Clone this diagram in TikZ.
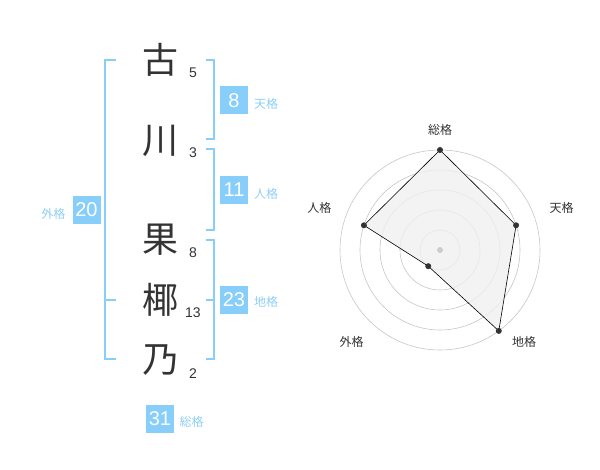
\documentclass[tikz,border=0pt]{standalone}
\usepackage{fontspec}
\setmainfont{Liberation Sans}
\newfontfamily\cjk{Noto Sans CJK JP}
\usetikzlibrary{calc}
\definecolor{kakusky}{HTML}{87CEFA}
\definecolor{kakutext}{HTML}{8DCFF5}
\definecolor{inkgray}{HTML}{333333}
\begin{document}
\begin{tikzpicture}[x=1pt,y=-1pt,
  kanji/.style={font=\cjk\fontsize{36}{36}\selectfont, text=inkgray, inner sep=0pt},
  strokes/.style={font=\fontsize{14}{14}\selectfont, text=inkgray, inner sep=0pt},
  kakubox/.style={fill=kakusky, text=white, minimum width=28pt, minimum height=28pt, inner sep=0pt, font=\fontsize{20}{20}\selectfont},
  kakuname/.style={text=kakutext, font=\cjk\fontsize{12}{12}\selectfont, inner sep=0pt},
  bracket/.style={draw=kakusky, line width=2pt},
  ring/.style={draw=gray!45, line width=0.6pt},
  axisname/.style={text=inkgray, font=\cjk\fontsize{12}{12}\selectfont, inner sep=0pt},
  dot/.style={circle, fill=inkgray, inner sep=0pt, minimum size=6pt}]
\useasboundingbox (0,0) rectangle (600,470);

% name and strokes
\node[kanji] (c1) at (160,60) {古};
\node[kanji] (c2) at (160,141) {川};
\node[kanji] (c3) at (160,240) {果};
\node[kanji] (c4) at (160,300) {椰};
\node[kanji] (c5) at (160,360) {乃};
\node[strokes] (s1) at (193,73) {5};
\node[strokes] (s2) at (193,153) {3};
\node[strokes] (s3) at (193,253) {8};
\node[strokes] (s4) at (193,313) {13};
\node[strokes] (s5) at (193,374) {2};

% brackets
\draw[bracket] (116,60)--(104.7,60)--(104.7,359.3)--(116,359.3);
\draw[bracket] (104.7,300)--(116,300);
\draw[bracket] (205.7,60)--(214.3,60)--(214.3,139.3)--(205.7,139.3);
\draw[bracket] (205.7,149.3)--(214.3,149.3)--(214.3,230)--(205.7,230);
\draw[bracket] (205.7,240)--(214.3,240)--(214.3,359.3)--(205.7,359.3);
\draw[bracket] (205.7,300)--(214.3,300);

% scores
\node[kakubox] (ten) at (234,100.5) {8};
\node[kakuname] at (266,104) {天格};
\node[kakubox] (jin) at (234,190) {11};
\node[kakuname] at (266,194) {人格};
\node[kakubox] (gai) at (86.5,210) {20};
\node[kakuname] at (53.3,214) {外格};
\node[kakubox] (chi) at (234,300) {23};
\node[kakuname] at (266,302) {地格};
\node[kakubox] (sou) at (160,419) {31};
\node[kakuname] at (191.7,422) {総格};

% radar
\coordinate (ctr) at (440,250);
\foreach \r in {20,40,60,80,100}
  \draw[ring] (ctr) circle (\r);
\coordinate (rsou) at ($(ctr)+(-90:100)$);
\coordinate (rten) at ($(ctr)+(-18:80)$);
\coordinate (rchi) at ($(ctr)+(54:100)$);
\coordinate (rgai) at ($(ctr)+(126:20)$);
\coordinate (rjin) at ($(ctr)+(198:80)$);
\filldraw[fill=gray!12, fill opacity=0.8, draw=black, line width=0.6pt]
  (rsou)--(rten)--(rchi)--(rgai)--(rjin)--cycle;
\fill[gray!40] (ctr) circle (3);
\foreach \p in {rsou,rten,rchi,rgai,rjin}
  \node[dot] at (\p) {};
\node[axisname] at (440,130) {総格};
\node[axisname] at (561.7,208.3) {天格};
\node[axisname] at (524,342) {地格};
\node[axisname] at (351.7,342) {外格};
\node[axisname] at (319.3,208.3) {人格};
\end{tikzpicture}
\end{document}
